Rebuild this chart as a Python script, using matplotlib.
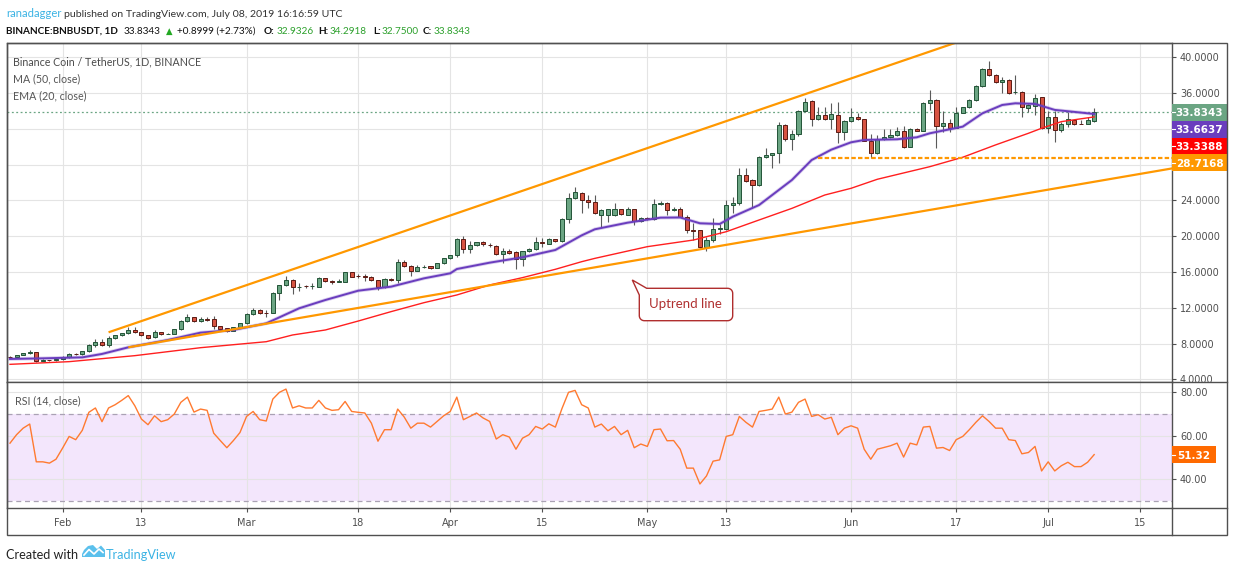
import numpy as np
import pandas as pd
import matplotlib
matplotlib.use("Agg")
import matplotlib.pyplot as plt
import matplotlib.dates as mdates
from matplotlib.patches import Rectangle, Polygon
from matplotlib.lines import Line2D

# ---------------- data ----------------
DATES = pd.date_range("2019-01-24", "2019-07-08", freq="D")

OPEN = [6.55, 6.48, 6.70, 6.92, 7.05, 6.10, 6.17, 6.12, 6.26, 6.50,
        6.85, 6.80, 7.14, 7.81, 8.15, 7.81, 8.60, 8.93, 9.15, 9.53,
        9.27, 8.93, 8.70, 9.27, 9.10, 9.12, 9.60, 10.50, 10.94, 10.50,
        10.74, 10.72, 9.94, 9.70, 9.41, 9.83, 10.27, 11.31, 11.76, 11.45,
        11.43, 13.62, 14.52, 15.11, 14.35, 14.43, 14.40, 14.37, 15.30, 14.97,
        14.92, 14.93, 15.97, 15.56, 15.52, 15.49, 15.08, 14.30, 15.18, 15.08,
        17.09, 16.72, 16.16, 16.58, 16.64, 16.49, 16.98, 17.54, 17.87, 19.66,
        18.54, 18.99, 19.32, 19.05, 18.88, 17.98, 18.39, 18.21, 17.50, 18.32,
        18.54, 19.32, 19.17, 19.66, 19.44, 21.89, 24.24, 24.80, 24.00, 23.79,
        22.41, 22.41, 22.41, 23.01, 22.41, 23.01, 21.67, 22.04, 21.93, 23.57,
        23.68, 22.98, 23.01, 22.19, 20.68, 20.66, 18.76, 19.55, 20.77, 20.85,
        23.46, 23.68, 26.81, 26.29, 25.77, 28.82, 29.04, 29.27, 32.39, 30.83,
        31.39, 33.96, 35.08, 33.07, 33.55, 33.07, 33.55, 31.61, 32.89, 33.30,
        33.07, 30.69, 29.27, 30.84, 31.06, 31.29, 31.73, 30.02, 31.96, 31.81,
        34.86, 35.20, 32.37, 32.63, 32.14, 33.82, 34.41, 35.20, 36.80, 38.66,
        37.99, 37.21, 37.43, 36.07, 36.09, 34.30, 34.56, 35.53, 32.07, 33.30,
        31.88, 32.55, 32.96, 32.56, 32.55, 32.9326]

HIGH = [6.60, 6.75, 6.98, 7.29, 7.10, 6.25, 6.22, 6.35, 6.60, 6.92,
        6.92, 7.20, 8.00, 8.50, 8.50, 8.85, 8.98, 9.22, 9.83, 9.90,
        9.35, 8.98, 9.55, 9.35, 9.18, 9.68, 10.60, 11.30, 11.00, 10.94,
        10.94, 11.10, 10.00, 9.75, 9.88, 10.35, 11.45, 12.03, 11.85, 11.76,
        13.78, 14.60, 15.56, 15.20, 14.74, 14.55, 14.82, 15.40, 15.35, 15.12,
        15.20, 16.02, 16.02, 15.75, 15.78, 15.55, 15.15, 15.35, 15.35, 17.50,
        17.35, 16.80, 16.80, 16.75, 16.70, 17.05, 17.60, 17.95, 19.77, 20.03,
        19.47, 19.40, 19.42, 19.22, 19.06, 18.65, 18.58, 18.30, 18.40, 18.65,
        19.96, 19.77, 19.81, 19.72, 22.00, 24.80, 25.47, 24.91, 24.60, 24.60,
        23.05, 23.10, 23.76, 23.10, 23.30, 23.10, 22.10, 22.10, 24.16, 23.95,
        23.82, 23.23, 23.30, 22.38, 21.45, 20.75, 19.96, 22.00, 21.37, 24.05,
        24.42, 27.59, 27.59, 26.40, 28.95, 29.82, 29.35, 32.73, 32.50, 31.87,
        34.10, 35.41, 35.20, 34.48, 34.48, 34.93, 35.05, 32.95, 34.30, 33.80,
        33.15, 31.40, 31.32, 31.95, 31.95, 32.18, 32.33, 32.05, 32.05, 35.05,
        36.35, 35.30, 34.00, 33.07, 34.48, 34.50, 35.30, 36.90, 38.77, 39.59,
        38.10, 37.77, 37.55, 38.00, 36.28, 34.80, 35.87, 35.60, 34.04, 34.04,
        32.80, 33.93, 33.00, 33.00, 33.38, 34.2918]

LOW = [6.45, 6.45, 6.68, 6.90, 6.00, 6.05, 6.08, 6.05, 6.22, 6.45,
       6.74, 6.76, 7.10, 7.60, 7.75, 7.68, 8.50, 8.85, 9.10, 9.20,
       8.88, 8.50, 8.65, 8.98, 9.06, 9.08, 9.55, 10.45, 10.40, 10.45,
       10.58, 9.60, 9.58, 9.35, 9.38, 9.80, 10.22, 11.25, 11.30, 10.93,
       11.38, 12.90, 14.45, 13.60, 13.92, 14.20, 14.08, 14.30, 14.90, 14.66,
       14.85, 14.88, 15.43, 15.30, 15.05, 15.02, 14.00, 14.25, 15.05, 14.75,
       16.60, 15.56, 16.10, 16.50, 16.35, 16.40, 16.85, 17.45, 17.72, 18.17,
       18.17, 18.95, 18.95, 18.85, 17.90, 17.05, 18.05, 16.30, 16.67, 18.25,
       18.50, 18.80, 19.10, 19.38, 19.38, 21.45, 24.15, 22.56, 23.12, 22.45,
       21.07, 21.63, 22.30, 22.35, 22.35, 21.30, 21.60, 21.85, 21.85, 23.50,
       22.38, 22.82, 22.10, 20.33, 19.58, 18.65, 18.39, 19.40, 20.25, 20.75,
       22.56, 23.55, 26.10, 23.20, 25.65, 28.70, 27.60, 28.15, 30.70, 29.63,
       31.20, 33.85, 32.36, 32.95, 32.98, 31.95, 30.40, 30.80, 32.80, 32.95,
       30.60, 28.70, 29.20, 30.75, 31.00, 31.20, 29.90, 29.95, 31.75, 31.75,
       34.12, 29.90, 31.70, 31.70, 32.05, 33.75, 34.35, 35.10, 36.70, 37.90,
       37.10, 36.05, 35.95, 35.95, 33.30, 33.93, 33.56, 32.00, 31.50, 30.58,
       31.70, 32.25, 32.45, 32.50, 32.50, 32.75]

CLOSE = [6.50, 6.70, 6.92, 7.07, 6.10, 6.17, 6.15, 6.28, 6.51, 6.85,
         6.80, 7.14, 7.81, 8.15, 7.81, 8.63, 8.93, 9.15, 9.53, 9.27,
         8.93, 8.67, 9.27, 9.04, 9.12, 9.60, 10.50, 10.94, 10.50, 10.76,
         10.70, 9.94, 9.64, 9.41, 9.83, 10.27, 11.31, 11.76, 11.39, 11.43,
         13.70, 14.55, 15.11, 14.30, 14.38, 14.40, 14.43, 15.30, 14.97, 14.92,
         14.96, 15.97, 15.49, 15.54, 15.49, 15.08, 14.30, 15.23, 15.13, 17.09,
         16.72, 16.16, 16.53, 16.62, 16.42, 16.98, 17.54, 17.87, 19.66, 18.54,
         18.99, 19.32, 19.10, 19.01, 17.98, 18.32, 18.17, 17.50, 18.32, 18.58,
         19.32, 19.27, 19.66, 19.44, 21.89, 24.24, 24.91, 24.00, 23.80, 22.56,
         22.90, 23.01, 23.01, 22.45, 23.01, 21.67, 22.04, 21.93, 23.57, 23.68,
         22.90, 23.02, 22.19, 20.66, 20.64, 18.76, 19.55, 20.77, 20.92, 23.46,
         23.68, 26.81, 26.21, 25.77, 28.82, 29.04, 29.27, 32.39, 30.83, 31.39,
         33.96, 34.96, 33.07, 33.55, 33.07, 33.66, 31.61, 32.84, 33.30, 33.07,
         30.69, 29.27, 30.84, 31.06, 31.29, 31.73, 30.02, 31.96, 31.81, 34.86,
         35.20, 32.37, 32.63, 32.14, 33.82, 34.41, 35.20, 36.80, 38.66, 37.99,
         37.21, 37.43, 36.05, 36.10, 34.41, 34.67, 35.42, 32.07, 33.30, 31.88,
         32.55, 33.07, 32.55, 32.54, 32.96, 33.8343]

# EMA(20) and MA(50) read at these candle numbers (1 = first candle)
EMA_DAY = [1, 6, 12, 15, 19, 25, 30, 35, 40, 45, 49, 54, 59, 64, 68, 69, 74, 79, 84, 88,
           90, 95, 100, 103, 106, 109, 111, 115, 120, 123, 126, 129, 131, 136, 139, 141,
           146, 149, 152, 154, 157, 160, 164, 166]
EMA_VAL = [6.29, 6.36, 6.47, 6.85, 7.59, 8.41, 9.23, 9.53, 10.27, 11.95, 12.88, 13.92,
           14.37, 15.30, 15.86, 16.34, 17.05, 17.65, 18.47, 20.10, 20.78, 21.52, 22.08,
           22.10, 21.45, 21.37, 22.19, 23.49, 26.29, 28.52, 29.68, 30.50, 30.76, 30.84,
           31.06, 31.51, 32.25, 33.74, 34.67, 34.86, 34.79, 34.12, 33.82, 33.6637]

MA_DAY = [1, 10, 20, 30, 40, 44, 49, 54, 59, 64, 69, 74, 79, 84, 88, 90, 98, 105, 110,
          115, 120, 125, 129, 133, 141, 146, 151, 156, 158, 161, 166]
MA_VAL = [5.69, 5.99, 6.66, 7.55, 8.22, 8.97, 9.53, 10.53, 11.58, 12.58, 13.44, 14.56,
          15.38, 16.31, 17.16, 17.53, 18.84, 19.58, 20.51, 21.82, 23.12, 24.61, 25.36,
          26.37, 27.78, 28.83, 30.21, 31.51, 32.07, 32.81, 33.3388]

RSI = [56.6, 60.5, 63.5, 65.4, 48.0, 48.0, 47.4, 49.2, 54.3, 59.7,
       58.2, 62.5, 70.8, 72.8, 66.5, 72.8, 74.3, 76.3, 78.5, 73.8,
       67.7, 65.1, 69.2, 66.5, 67.4, 70.0, 75.4, 77.8, 70.9, 72.3,
       71.7, 61.2, 57.8, 54.5, 57.8, 61.5, 68.9, 71.2, 67.4, 66.8,
       76.9, 80.0, 81.5, 72.8, 73.8, 72.8, 72.8, 76.3, 72.8, 71.7,
       72.0, 75.8, 71.2, 70.8, 70.5, 65.8, 57.5, 62.8, 62.8, 72.3,
       68.6, 63.5, 65.8, 65.8, 64.0, 66.6, 69.2, 71.2, 77.8, 67.4,
       68.9, 70.5, 68.2, 66.6, 58.5, 60.5, 59.4, 53.8, 58.9, 60.5,
       64.3, 63.1, 65.5, 64.0, 72.5, 80.0, 80.9, 74.3, 72.8, 64.0,
       65.4, 62.3, 64.3, 60.5, 62.5, 54.5, 56.2, 55.1, 62.8, 63.1,
       57.7, 57.8, 53.8, 45.1, 45.1, 37.8, 41.5, 48.3, 48.9, 59.7,
       60.5, 68.9, 66.2, 64.0, 71.2, 71.7, 72.3, 77.8, 70.0, 70.9,
       75.4, 76.9, 68.9, 69.7, 67.7, 68.5, 60.5, 63.5, 64.6, 63.5,
       53.8, 49.2, 53.8, 54.6, 55.4, 56.6, 50.2, 56.6, 55.8, 64.0,
       64.3, 54.3, 54.6, 53.2, 58.2, 59.7, 62.8, 66.2, 69.2, 66.6,
       63.5, 63.5, 58.2, 57.8, 51.7, 52.3, 55.1, 43.8, 48.0, 43.8,
       46.2, 47.8, 45.8, 45.8, 47.8, 51.32]

UPPER_LINE_DATES = ["2019-02-08", "2019-06-17"]
UPPER_LINE_PRICES = [9.27, 41.65]
LOWER_LINE_DATES = ["2019-02-11", "2019-07-20"]
LOWER_LINE_PRICES = [7.59, 27.6]
SUPPORT_LEVEL = 28.7168
SUPPORT_START = "2019-05-27"

TICK_DATES = ["2019-02-01", "2019-02-13", "2019-03-01", "2019-03-18", "2019-04-01",
              "2019-04-15", "2019-05-01", "2019-05-13", "2019-06-01", "2019-06-17",
              "2019-07-01", "2019-07-15"]
TICK_LABELS = ["Feb", "13", "Mar", "18", "Apr", "15", "May", "13", "Jun", "17", "Jul", "15"]
PRICE_TICKS = [4, 8, 12, 16, 20, 24, 28, 32, 36, 40]
HIDDEN_PRICE_TICKS = [28, 32]
RSI_TICKS = [40, 60, 80]

# ---------------- style ----------------
UP_FILL, UP_EDGE = "#6BA583", "#225437"
DN_FILL, DN_EDGE = "#D75442", "#5B1A13"
WICK = "#5a5a5a"
PURPLE = "#6A3DBE"
RED = "#FF1F1F"
ORANGE = "#FF9800"
RSI_COL = "#FF7A30"
BAND = "#F3E6FC"
GRID = "#E4E4E4"
FRAME = "#505050"
TXT = "#4f4f4f"
BLUE = "#3BB3E4"
LATO = ["Lato", "DejaVu Sans"]

plt.rcParams["font.family"] = "DejaVu Sans"

W, H = 1234, 572
fig = plt.figure(figsize=(W / 100, H / 100), dpi=100)
fig.patch.set_facecolor("white")
RENDERER = fig.canvas.get_renderer()


def fx(px):
    return px / W


def fy(py):
    return 1 - py / H


L, R = 7, 1171.7
T, MID, BOT = 42.7, 381.7, 508.3
FR, FB = 1227, 535

ax = fig.add_axes([fx(L), fy(MID), (R - L) / W, (MID - T) / H])
ax2 = fig.add_axes([fx(L), fy(BOT), (R - L) / W, (BOT - MID) / H])

xs = mdates.date2num(DATES)
x0, x1 = xs[0] - 0.457, xs[0] + 176.8
tick_x = mdates.date2num(pd.to_datetime(TICK_DATES))

for a in (ax, ax2):
    a.set_xlim(x0, x1)
    a.set_facecolor("white")
    for s in a.spines.values():
        s.set_color(FRAME)
        s.set_linewidth(1.0)
    for t in tick_x:
        a.axvline(t, color=GRID, lw=0.8, zorder=0.6)
    a.yaxis.tick_right()
    a.tick_params(axis="y", length=3, width=0.8, color=FRAME, labelcolor=TXT,
                  labelsize=7, pad=3)

ax.set_ylim(3.75, 41.63)
ax2.set_ylim(26.6, 84.9)

# price panel grid / ticks
for p in PRICE_TICKS:
    ax.axhline(p, color=GRID, lw=0.8, zorder=0.6)
ax.set_yticks(PRICE_TICKS)
ax.set_yticklabels(["" if p in HIDDEN_PRICE_TICKS else f"{p:.4f}" for p in PRICE_TICKS])
ax.set_xticks(tick_x)
ax.tick_params(axis="x", length=0, labelbottom=False)

# candles
o, h, l, c = (np.array(v) for v in (OPEN, HIGH, LOW, CLOSE))
up = c >= o
ax.vlines(xs, l, h, color=WICK, lw=0.8, zorder=3)
ax.bar(xs[up], (c - o)[up], bottom=o[up], width=0.62, color=UP_FILL,
       edgecolor=UP_EDGE, linewidth=0.7, zorder=4)
ax.bar(xs[~up], (o - c)[~up], bottom=c[~up], width=0.62, color=DN_FILL,
       edgecolor=DN_EDGE, linewidth=0.7, zorder=4)

# moving averages
ax.plot(xs[np.array(MA_DAY) - 1], MA_VAL, color=RED, lw=1.0, zorder=5)
ax.plot(xs[np.array(EMA_DAY) - 1], EMA_VAL, color=PURPLE, lw=2.6, alpha=0.25, zorder=5)
ax.plot(xs[np.array(EMA_DAY) - 1], EMA_VAL, color=PURPLE, lw=1.4, zorder=5)

# trend lines and support
ax.plot(mdates.date2num(pd.to_datetime(UPPER_LINE_DATES)), UPPER_LINE_PRICES,
        color=ORANGE, lw=1.6, zorder=6, solid_capstyle="butt")
ax.plot(mdates.date2num(pd.to_datetime(LOWER_LINE_DATES)), LOWER_LINE_PRICES,
        color=ORANGE, lw=1.6, zorder=6, solid_capstyle="butt")
ax.hlines(SUPPORT_LEVEL, mdates.date2num(pd.Timestamp(SUPPORT_START)), x1,
          colors=ORANGE, lw=1.6, linestyles=(0, (2, 1)), zorder=6)
ax.axhline(CLOSE[-1], color=UP_FILL, lw=0.9, ls=(0, (1.5, 2)), zorder=2)

# RSI panel
ax2.axhspan(30, 70, color=BAND, lw=0, zorder=0.5)
for r in RSI_TICKS:
    ax2.axhline(r, color=GRID, lw=0.8, zorder=0.6)
for r in (70, 30):
    ax2.axhline(r, color="#aaa2b4", lw=0.9, ls=(0, (4, 3)), zorder=1)
ax2.plot(xs, RSI, color=RSI_COL, lw=1.0, zorder=3)
ax2.set_yticks(RSI_TICKS)
ax2.set_yticklabels([f"{r:.2f}" for r in RSI_TICKS])
ax2.set_xticks(tick_x)
ax2.set_xticklabels(TICK_LABELS)
ax2.tick_params(axis="x", length=3, width=0.8, color=FRAME, labelcolor=TXT,
                labelsize=7, pad=4)

# frame pieces outside the axes
fig.patches.append(Rectangle((fx(L), fy(FB)), (FR - L) / W, (FB - T) / H,
                             transform=fig.transFigure, fill=False,
                             edgecolor=FRAME, lw=1.0, zorder=8))
for xa, xb, ya, yb in [(R, FR, MID, MID), (R, FR, BOT, BOT), (R, R, BOT, FB)]:
    fig.lines.append(Line2D([fx(xa), fx(xb)], [fy(ya), fy(yb)],
                            transform=fig.transFigure, color=FRAME, lw=1.0))


def ypix(a, val):
    return H - a.transData.transform((x0, val))[1]


# price tags on the right scale
tags = [(CLOSE[-1], UP_FILL), (EMA_VAL[-1], PURPLE), (MA_VAL[-1], "#FF0000"),
        (SUPPORT_LEVEL, ORANGE)]
bh = 16.8
cy0 = ypix(ax, CLOSE[-1])
for k, (val, col) in enumerate(tags):
    cy = cy0 + k * bh
    fig.patches.append(Rectangle((fx(R), fy(cy + bh / 2)), (FR - R) / W, bh / H,
                                 transform=fig.transFigure, facecolor=col,
                                 edgecolor="none", zorder=7))
    fig.lines.append(Line2D([fx(R), fx(R + 3.5)], [fy(cy), fy(cy)],
                            transform=fig.transFigure, color="white", lw=0.8, zorder=8))
    fig.text(fx(1199.5), fy(cy), f"{val:.4f}", ha="center", va="center_baseline",
             color="white", fontsize=7.5, fontweight="bold", zorder=9)

cy = ypix(ax2, RSI[-1])
fig.patches.append(Rectangle((fx(R), fy(cy + bh / 2)), 44 / W, bh / H,
                             transform=fig.transFigure, facecolor="#FF6A00",
                             edgecolor="none", zorder=7))
fig.lines.append(Line2D([fx(R), fx(R + 3.5)], [fy(cy), fy(cy)],
                        transform=fig.transFigure, color="white", lw=0.8, zorder=8))
fig.text(fx(1193.7), fy(cy), f"{RSI[-1]:.2f}", ha="center", va="center_baseline",
         color="white", fontsize=7.5, fontweight="bold", zorder=9)


# ---------------- texts ----------------
def fit_text(x, y, s, width, color, weight="normal", family=LATO, ha="left", size=None):
    t = fig.text(fx(x), fy(y), s, fontsize=10, color=color, fontweight=weight,
                 family=family, ha=ha, va="baseline", zorder=9)
    if size is None:
        w = t.get_window_extent(renderer=RENDERER).width
        size = 10 * width / w
    t.set_fontsize(size)
    return size


# header line 1
s1 = fit_text(6, 17.3, "ranadagger", 55, BLUE)
fit_text(64, 17.3, "published on TradingView.com, July 08, 2019 16:16:59 UTC", 278, "#333333")

# header line 2
GREEN = "#2CA02C"
s2 = fit_text(6, 33.7, "BINANCE:BNBUSDT, 1D", 113, "#111111", weight="bold")
fit_text(124, 33.7, "33.8343", 0, "#111111", size=s2)
fit_text(166, 33.7, "\u25B2", 0, "#22A822", family=["DejaVu Sans"], size=s2 * 0.85)
fit_text(177, 33.7, "+0.8999 (+2.73%)", 0, "#111111", size=s2)
for lab, xl, val, xv in [("O:", 264, "32.9326", 277), ("H:", 318, "34.2918", 330),
                         ("L:", 373, "32.7500", 382), ("C:", 423, "33.8343", 434)]:
    fit_text(xl, 33.7, lab, 0, "#111111", weight="bold", size=s2)
    fit_text(xv, 33.7, val, 0, GREEN, size=s2)

# legend in price panel
s3 = fit_text(13, 65.5, "Binance Coin / TetherUS, 1D, BINANCE", 188, "#4a4a4a")
fit_text(13, 82.3, "MA (50, close)", 0, "#555555", size=s3)
fit_text(13, 99.0, "EMA (20, close)", 0, "#555555", size=s3)
fit_text(15, 404.5, "RSI (14, close)", 0, "#555555", size=s3)

# footer
s4 = fit_text(6, 559, "Created with", 72, "#222222")
fit_text(106, 559, "TradingView", 0, BLUE, size=s4)
logo = [(82, 557), (105, 557), (105, 550), (101, 545.5), (97, 549), (93, 545),
        (88, 546), (84, 550), (82, 554)]
fig.patches.append(Polygon([(fx(a), fy(b)) for a, b in logo], closed=True,
                           transform=fig.transFigure, facecolor="#5BC0EC",
                           edgecolor="none", zorder=8))
zig = [(84, 555), (89, 549.5), (94, 554), (99, 549), (103, 552.5)]
fig.lines.append(Line2D([fx(a) for a, b in zig], [fy(b) for a, b in zig],
                        transform=fig.transFigure, color="white", lw=1.2, zorder=9))

# "Uptrend line" callout
Lb, Rb, Tb, Bb, rad = 639.3, 732.7, 288.3, 320.7, 5.0


def arc(cx, cy, a0, a1):
    th = np.radians(np.linspace(a0, a1, 8))
    return [(cx + rad * np.cos(t), cy + rad * np.sin(t)) for t in th]


pts = [(646.7, Tb)]
pts += arc(Rb - rad, Tb + rad, -90, 0)
pts += arc(Rb - rad, Bb - rad, 0, 90)
pts += arc(Lb + rad, Bb - rad, 90, 180)
pts += [(Lb, 295.0), (632.3, 280.0)]
fig.patches.append(Polygon([(fx(a), fy(b)) for a, b in pts], closed=True,
                           transform=fig.transFigure, facecolor="white",
                           edgecolor="#B02E2E", lw=1.0, zorder=8))
fit_text(685.3, 307.5, "Uptrend line", 72.7, "#B03030", ha="center")

fig.savefig("out.png", dpi=100, facecolor="white")
